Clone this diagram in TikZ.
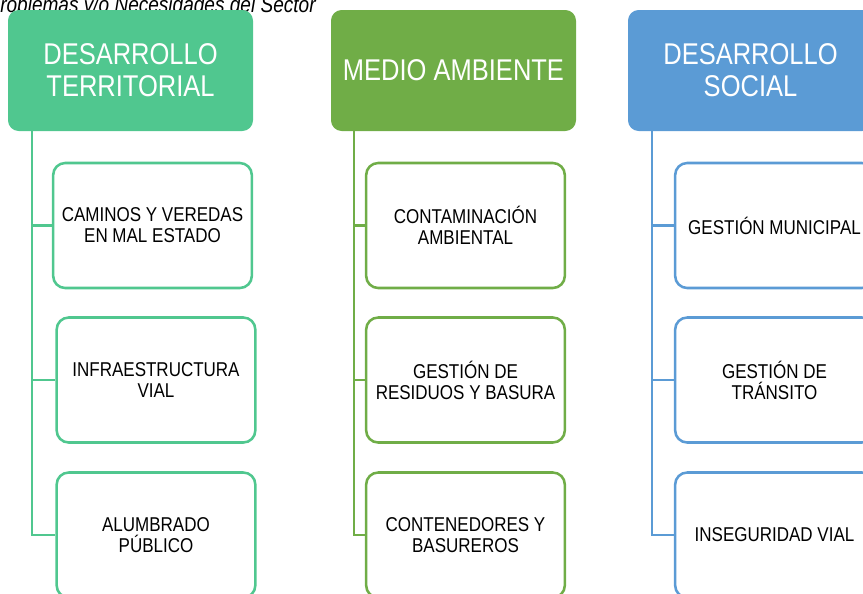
\documentclass[tikz,border=0pt]{standalone}
\usepackage{fontspec}
\setmainfont{Liberation Sans}[FakeStretch=0.85]
\usetikzlibrary{positioning}

\definecolor{verdeT}{HTML}{50C78F}
\definecolor{verdeM}{HTML}{70AD47}
\definecolor{azulS}{HTML}{5B9BD5}

\tikzset{
  header/.style={rectangle, rounded corners=8pt, fill=#1, text=white,
    minimum width=183.75pt, minimum height=90.75pt, align=center,
    font=\fontsize{22.5}{24}\selectfont},
  item/.style={rectangle, rounded corners=9pt, draw=#1, line width=1.9pt, fill=white,
    minimum width=149pt, minimum height=93.75pt, align=center,
    font=\fontsize{15}{15.8}\selectfont},
  link/.style={draw=#1, line width=1.6pt}
}

\begin{document}
\begin{tikzpicture}[x=0.75pt, y=-0.75pt]
  \useasboundingbox (0,0) rectangle (863,593);
  \clip (0,0) rectangle (863,593);

  \node (titulo) [anchor=base west, inner sep=0pt, font=\itshape\fontsize{16.8}{17}\selectfont] at (0,12) {roblemas y/o Necesidades del Sector};

  % encabezados
  \node (terr) [header=verdeT] at (130.5,70.5) {DESARROLLO\\TERRITORIAL};
  \node (amb)  [header=verdeM] at (453.5,70.5) {MEDIO AMBIENTE};
  \node (soc)  [header=azulS]  at (750.5,70.5) {DESARROLLO\\SOCIAL};

  % columna 1
  \node (terr1) [item=verdeT] at (152.5,225.5) {CAMINOS Y VEREDAS\\EN MAL ESTADO};
  \node (terr2) [item=verdeT] at (156,380) {INFRAESTRUCTURA\\VIAL};
  \node (terr3) [item=verdeT] at (156,535) {ALUMBRADO\\PÚBLICO};

  % columna 2
  \node (amb1) [item=verdeM] at (465.5,225.5) {CONTAMINACIÓN\\AMBIENTAL};
  \node (amb2) [item=verdeM] at (465.5,380) {GESTIÓN DE\\RESIDUOS Y BASURA};
  \node (amb3) [item=verdeM] at (465.5,535) {CONTENEDORES Y\\BASUREROS};

  % columna 3
  \node (soc1) [item=azulS] at (774.5,225.5) {GESTIÓN MUNICIPAL};
  \node (soc2) [item=azulS] at (774.5,380) {GESTIÓN DE\\TRÁNSITO};
  \node (soc3) [item=azulS] at (774.5,535) {INSEGURIDAD VIAL};

  \coordinate (terrS) at ([xshift=18pt]terr.south west);
  \coordinate (ambS)  at ([xshift=17.25pt]amb.south west);
  \coordinate (socS)  at ([xshift=18pt]soc.south west);

  \path[link=verdeT] (terrS) |- (terr1.west);
  \path[link=verdeT] (terrS) |- (terr2.west);
  \path[link=verdeT] (terrS) |- (terr3.west);

  \path[link=verdeM] (ambS) |- (amb1.west);
  \path[link=verdeM] (ambS) |- (amb2.west);
  \path[link=verdeM] (ambS) |- (amb3.west);

  \path[link=azulS] (socS) |- (soc1.west);
  \path[link=azulS] (socS) |- (soc2.west);
  \path[link=azulS] (socS) |- (soc3.west);
\end{tikzpicture}
\end{document}
